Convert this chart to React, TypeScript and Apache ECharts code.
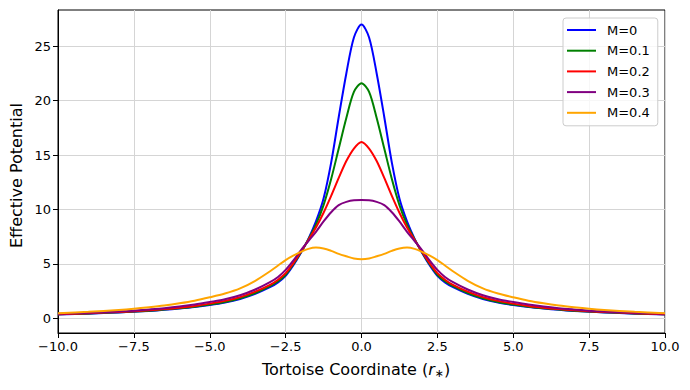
import React, { useEffect, useRef } from "react";
import * as echarts from "echarts";

const xs = [-10, -9, -8, -7.5, -7, -6.5, -6, -5.5, -5, -4.5, -4, -3.5, -3, -2.75, -2.5, -2.25, -2, -1.75, -1.5, -1.25, -1, -0.75, -0.5, -0.25, 0,
  0.25, 0.5, 0.75, 1, 1.25, 1.5, 1.75, 2, 2.25, 2.5, 2.75, 3, 3.5, 4, 4.5, 5, 5.5, 6, 6.5, 7, 7.5, 8, 9, 10];

const m0 = [0.36, 0.43, 0.54, 0.6, 0.68, 0.78, 0.9, 1.04, 1.22, 1.45, 1.78, 2.25, 2.88, 3.3, 3.9, 4.85, 6.0, 7.3, 8.9, 11.0, 14.3, 18.5, 22.5, 25.8, 27.0,
  25.8, 22.5, 18.5, 14.3, 11.0, 8.9, 7.3, 6.0, 4.85, 3.9, 3.3, 2.88, 2.25, 1.78, 1.45, 1.22, 1.04, 0.9, 0.78, 0.68, 0.6, 0.54, 0.43, 0.36];
const m1 = [0.37, 0.45, 0.56, 0.62, 0.7, 0.8, 0.92, 1.07, 1.26, 1.5, 1.85, 2.33, 2.98, 3.4, 4.0, 4.95, 6.05, 7.25, 8.6, 10.4, 12.8, 15.6, 18.4, 20.8, 21.6,
  20.8, 18.4, 15.6, 12.8, 10.4, 8.6, 7.25, 6.05, 4.95, 4.0, 3.4, 2.98, 2.33, 1.85, 1.5, 1.26, 1.07, 0.92, 0.8, 0.7, 0.62, 0.56, 0.45, 0.37];
const m2 = [0.38, 0.47, 0.58, 0.65, 0.74, 0.85, 0.98, 1.14, 1.35, 1.6, 1.95, 2.45, 3.1, 3.55, 4.15, 5.05, 6.1, 7.2, 8.35, 9.7, 11.25, 12.9, 14.45, 15.6, 16.2,
  15.6, 14.45, 12.9, 11.25, 9.7, 8.35, 7.2, 6.1, 5.05, 4.15, 3.55, 3.1, 2.45, 1.95, 1.6, 1.35, 1.14, 0.98, 0.85, 0.74, 0.65, 0.58, 0.47, 0.38];
const m3 = [0.41, 0.5, 0.63, 0.7, 0.81, 0.93, 1.08, 1.27, 1.5, 1.75, 2.12, 2.65, 3.35, 3.8, 4.45, 5.3, 6.25, 7.1, 7.95, 8.9, 9.75, 10.4, 10.7, 10.85, 10.87,
  10.85, 10.7, 10.4, 9.75, 8.9, 7.95, 7.1, 6.25, 5.3, 4.45, 3.8, 3.35, 2.65, 2.12, 1.75, 1.5, 1.27, 1.08, 0.93, 0.81, 0.7, 0.63, 0.5, 0.41];
const m4 = [0.47, 0.6, 0.77, 0.88, 1.02, 1.18, 1.38, 1.62, 1.93, 2.28, 2.75, 3.45, 4.35, 4.85, 5.35, 5.75, 6.1, 6.38, 6.5, 6.42, 6.2, 5.92, 5.7, 5.5, 5.43,
  5.5, 5.7, 5.92, 6.2, 6.42, 6.5, 6.38, 6.1, 5.75, 5.35, 4.85, 4.35, 3.45, 2.75, 2.28, 1.93, 1.62, 1.38, 1.18, 1.02, 0.88, 0.77, 0.6, 0.47];

const seriesNames = ["M=0", "M=0.1", "M=0.2", "M=0.3", "M=0.4"];
const seriesValues = [m0, m1, m2, m3, m4];
const seriesColors = ["#0000ff", "#008000", "#ff0000", "#800080", "#ffa500"];
const yTicks = [0, 5, 10, 15, 20, 25];

const FONT = "DejaVu Sans";

export default function App() {
  const ref = useRef<HTMLDivElement>(null);
  useEffect(() => {
    if (!ref.current) return;
    const chart = echarts.init(ref.current, undefined, { renderer: "svg" });
    chart.setOption({
      animation: false,
      backgroundColor: "#ffffff",
      textStyle: { fontFamily: FONT },
      grid: { left: 58, right: 25, top: 10, bottom: 57, show: true, borderColor: "#000", borderWidth: 1, backgroundColor: "transparent" },
      legend: {
        orient: "vertical",
        left: 563,
        top: 18,
        padding: [5, 8, 6, 4],
        icon: "rect",
        itemWidth: 29,
        itemHeight: 2,
        itemGap: 6.7,
        backgroundColor: "rgba(255,255,255,0.8)",
        borderColor: "#cccccc",
        borderWidth: 1,
        borderRadius: 3,
        textStyle: { fontFamily: FONT, fontSize: 13, lineHeight: 14, color: "#000", padding: [0, 0, 0, 6] },
        data: seriesNames,
      },
      xAxis: {
        type: "value",
        min: -10,
        max: 10,
        interval: 2.5,
        axisLine: { show: true, onZero: false, lineStyle: { color: "#000", width: 1 } },
        axisTick: { show: true, length: 5, lineStyle: { color: "#000" } },
        axisLabel: {
          color: "#000",
          fontSize: 13,
          fontFamily: FONT,
          margin: 7,
          formatter: (v: number) => (v < 0 ? "\u2212" : "") + Math.abs(v).toFixed(1),
        },
        splitLine: { show: true, lineStyle: { color: "#d5d5d5", width: 1 } },
      },
      yAxis: {
        type: "value",
        min: -1.35,
        max: 28.33,
        axisLine: { show: true, onZero: false, lineStyle: { color: "#000", width: 1 } },
        axisTick: { show: true, length: 5, lineStyle: { color: "#000" }, customValues: yTicks },
        axisLabel: {
          color: "#000",
          fontSize: 13,
          fontFamily: FONT,
          margin: 7,
          customValues: yTicks,
          formatter: (v: number) => (yTicks.indexOf(v) >= 0 ? String(v) : ""),
        },
        splitLine: { show: true, lineStyle: { color: "#d5d5d5", width: 1 } },
      },
      graphic: [
        {
          type: "text",
          left: 262,
          top: 361,
          style: {
            text: "{a|Tortoise Coordinate (}{i|r}{s|\u2217}{a|)}",
            rich: {
              a: { fontFamily: FONT, fontSize: 16, fill: "#000" },
              i: { fontFamily: FONT, fontSize: 16, fontStyle: "italic", fill: "#000" },
              s: { fontFamily: FONT, fontSize: 11, fill: "#000", padding: [8, 0, 0, 0] },
            },
          },
        },
        {
          type: "text",
          x: 8,
          y: 248,
          rotation: Math.PI / 2,
          style: { text: "Effective Potential", fontFamily: FONT, fontSize: 16, fill: "#000" },
        },
      ],
      series: seriesNames.map((name, i) => ({
        name,
        type: "line",
        data: xs.map((x, j) => [x, seriesValues[i][j]]),
        smooth: 0.3,
        symbol: "none",
        lineStyle: { color: seriesColors[i], width: 2 },
        itemStyle: { color: seriesColors[i] },
        z: 2 + i,
      })),
    });
    return () => chart.dispose();
  }, []);
  return <div ref={ref} style={{ width: 690, height: 390, position: "absolute", left: 0, top: 0 }} />;
}
